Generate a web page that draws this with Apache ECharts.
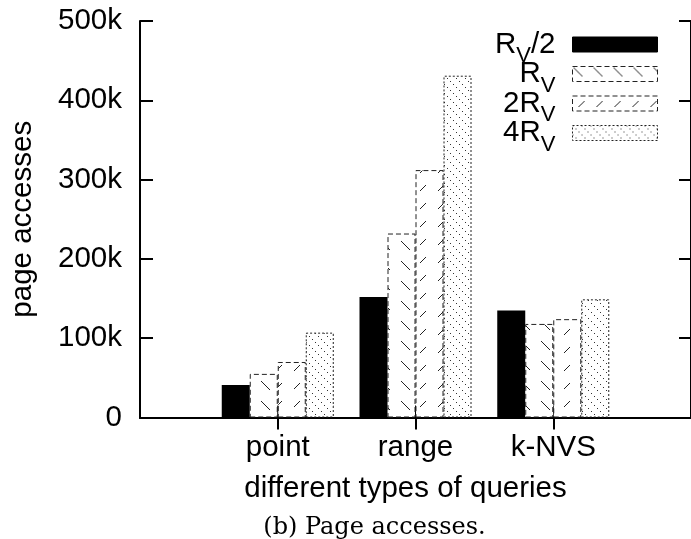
<!DOCTYPE html>
<html><head><meta charset="utf-8">
<script src="https://cdn.jsdelivr.net/npm/echarts/dist/echarts.min.js"></script>
<style>html,body{margin:0;padding:0;background:#fff}#c{width:691px;height:539px}</style>
</head><body><div id="c"></div>
<script>
// ---- data (values in thousands of page accesses) ----
const categories = ['', 'point', 'range', 'k-NVS', ''];
const seriesNames = ['R_V/2', 'R_V', '2R_V', '4R_V'];
const halfRv  = [null, 41, 152, 135, null];
const rv      = [null, 55, 232, 118, null];
const twoRv   = [null, 70, 312, 124, null];
const fourRv  = [null, 107, 431, 149, null];
const yMin = 0, yMax = 500, yStep = 100;
const xTitle = 'different types of queries';
const yTitle = 'page accesses';
const caption = '(b) Page accesses.';

const SANS = '"Liberation Sans", Arial, sans-serif';
const FS = 29.5;

function makePattern(kind) {
  const c = document.createElement('canvas');
  const ctx = c.getContext('2d');
  if (kind === 'back') {
    c.width = 20; c.height = 20;
    ctx.fillStyle = '#fff'; ctx.fillRect(0, 0, 20, 20);
    ctx.strokeStyle = '#222'; ctx.lineWidth = 1;
    ctx.beginPath(); ctx.moveTo(1, 1); ctx.lineTo(10, 10); ctx.stroke();
  } else if (kind === 'fwd') {
    c.width = 18; c.height = 18;
    ctx.fillStyle = '#fff'; ctx.fillRect(0, 0, 18, 18);
    ctx.strokeStyle = '#222'; ctx.lineWidth = 1;
    ctx.beginPath(); ctx.moveTo(12, 5); ctx.lineTo(6, 11); ctx.stroke();
  } else {
    c.width = 9; c.height = 9;
    ctx.fillStyle = '#fff'; ctx.fillRect(0, 0, 9, 9);
    ctx.fillStyle = '#333';
    ctx.fillRect(0, 0, 1, 1); ctx.fillRect(3, 3, 1, 1); ctx.fillRect(6, 6, 1, 1);
  }
  return { image: c, repeat: 'repeat' };
}

const legendFmt = {
  'R_V/2': '{m|R}{s|V}{e|/2}',
  'R_V': '{m|R}{se|V}',
  '2R_V': '{m|2R}{se|V}',
  '4R_V': '{m|4R}{se|V}'
};
const borderTypes = [null, [5, 3], [5, 3], [2, 2]];

const chart = echarts.init(document.getElementById('c'), null, { renderer: 'canvas' });

function barSeries(name, data, color, borderType, borderColor) {
  return {
    name: name, type: 'bar', data: data,
    xAxisIndex: 0, yAxisIndex: 0,
    barWidth: 28, barGap: '0%',
    itemStyle: { color: color, borderColor: borderColor, borderWidth: borderType ? 1 : 0, borderType: borderType || 'solid' },
    emphasis: { disabled: true }
  };
}

const subPad = 15.5;
chart.setOption({
  animation: false,
  backgroundColor: '#fff',
  textStyle: { fontFamily: SANS, color: '#000' },
  grid: { left: 137.5, top: 21, width: 556, height: 396.5, containLabel: false },
  legend: {
    data: seriesNames.map(function (n, i) {
      return { name: n, itemStyle: { borderWidth: 1, borderColor: i === 0 ? '#000' : '#222', borderType: borderTypes[i] || 'solid' } };
    }),
    orient: 'vertical', align: 'right',
    right: 33, top: 29.75, padding: 0,
    icon: 'rect', itemWidth: 85, itemHeight: 15, itemGap: -10.5,
    selectedMode: false,
    formatter: function (n) { return legendFmt[n]; },
    textStyle: {
      color: '#000', fontFamily: SANS,
      rich: {
        m:  { fontSize: FS, lineHeight: FS, fontFamily: SANS, color: '#000', verticalAlign: 'top', padding: [0, 0, 10, 0] },
        e:  { fontSize: FS, lineHeight: FS, fontFamily: SANS, color: '#000', verticalAlign: 'top', padding: [0, 12, 10, 0] },
        s:  { fontSize: 22, lineHeight: 22, fontFamily: SANS, color: '#000', verticalAlign: 'top', padding: [subPad, 0, 0, 0] },
        se: { fontSize: 22, lineHeight: 22, fontFamily: SANS, color: '#000', verticalAlign: 'top', padding: [subPad, 12, 0, 0] }
      }
    }
  },
  xAxis: [{
    type: 'category', data: categories, boundaryGap: false, position: 'bottom',
    axisLine: { show: true, lineStyle: { color: '#000', width: 2 } },
    axisTick: { show: true, inside: true, length: 12, lineStyle: { color: '#000', width: 2 },
      interval: function (i, v) { return v !== ''; } },
    axisLabel: { show: true, fontSize: FS, color: '#000', fontFamily: SANS, margin: 15,
      interval: function (i, v) { return v !== ''; } },
    splitLine: { show: false },
    name: xTitle, nameLocation: 'middle', nameGap: 56,
    nameTextStyle: { fontSize: FS, color: '#000', fontFamily: SANS, padding: [0, 20, 0, 0] }
  }, {
    type: 'category', data: categories, boundaryGap: false, position: 'top',
    axisLine: { show: true, lineStyle: { color: '#000', width: 2 } },
    axisTick: { show: true, inside: true, length: 12, lineStyle: { color: '#000', width: 2 },
      interval: function (i, v) { return v !== ''; } },
    axisLabel: { show: false }, splitLine: { show: false }
  }],
  yAxis: [{
    type: 'value', min: yMin, max: yMax, interval: yStep, position: 'left',
    axisLine: { show: true, lineStyle: { color: '#000', width: 2 } },
    axisTick: { show: true, inside: true, length: 13, lineStyle: { color: '#000', width: 2 } },
    axisLabel: { fontSize: FS, color: '#000', fontFamily: SANS, margin: 18,
      formatter: function (v) { return v === 0 ? '0' : v + 'k'; } },
    splitLine: { show: false },
    name: yTitle, nameLocation: 'middle', nameGap: 102,
    nameTextStyle: { fontSize: FS, color: '#000', fontFamily: SANS }
  }, {
    type: 'value', min: yMin, max: yMax, interval: yStep, position: 'right',
    axisLine: { show: true, lineStyle: { color: '#000', width: 2 } },
    axisTick: { show: true, inside: true, length: 12, lineStyle: { color: '#000', width: 2 } },
    axisLabel: { show: false }, splitLine: { show: false }
  }],
  series: [
    barSeries(seriesNames[0], halfRv, '#000', null, '#000'),
    barSeries(seriesNames[1], rv, makePattern('back'), borderTypes[1], '#222'),
    barSeries(seriesNames[2], twoRv, makePattern('fwd'), borderTypes[2], '#222'),
    barSeries(seriesNames[3], fourRv, makePattern('dots'), borderTypes[3], '#222')
  ],
  graphic: [{
    type: 'text', x: 374.5, y: 528,
    style: { text: caption, font: '24px "DejaVu Serif", serif', fill: '#000', align: 'center', verticalAlign: 'middle' }
  }]
});
</script>
</body></html>
